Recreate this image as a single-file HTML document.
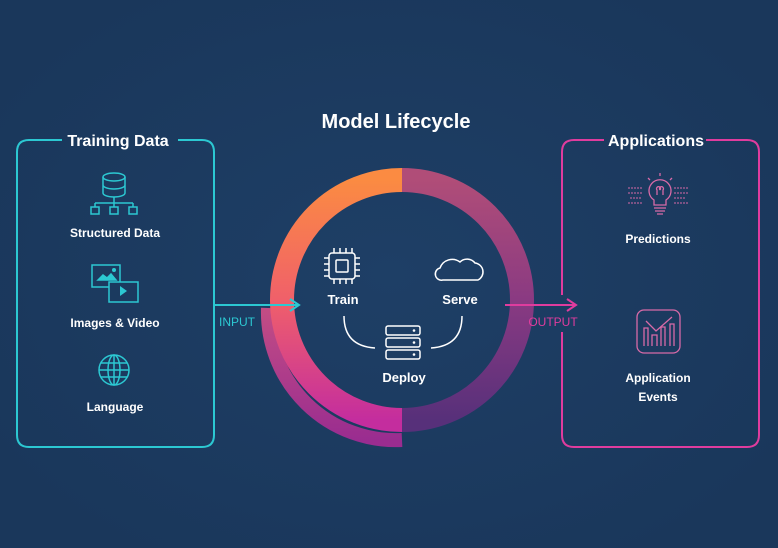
<!DOCTYPE html>
<html><head><meta charset="utf-8"><style>
html,body{margin:0;padding:0;width:778px;height:548px;overflow:hidden;background:#1b3a5f;font-family:"Liberation Sans",sans-serif}
</style></head><body>
<svg width="778" height="548" viewBox="0 0 778 548" xmlns="http://www.w3.org/2000/svg" style="position:absolute;left:0;top:0">
<defs>
<radialGradient id="bg" cx="50%" cy="50%" r="60%"><stop offset="0" stop-color="#1e3f66"/><stop offset="1" stop-color="#1a375b"/></radialGradient>
<linearGradient id="lg" x1="0" y1="0" x2="0" y2="1"><stop offset="0" stop-color="#fb8b42"/><stop offset="0.5" stop-color="#f0606a"/><stop offset="1" stop-color="#c42d9e"/></linearGradient>
<linearGradient id="rg" x1="0" y1="0" x2="0" y2="1"><stop offset="0" stop-color="#b04d78"/><stop offset="0.5" stop-color="#8a3a82"/><stop offset="1" stop-color="#57307a"/></linearGradient>
<linearGradient id="og" x1="0" y1="0" x2="0" y2="1"><stop offset="0" stop-color="#e0508a"/><stop offset="1" stop-color="#b02a98"/></linearGradient>
</defs>
<rect width="778" height="548" fill="url(#bg)"/>
<!-- boxes -->
<path d="M178 140 H202 Q214 140 214 152 V435 Q214 447 202 447 H29 Q17 447 17 435 V152 Q17 140 29 140 H62" fill="none" stroke="#2cc8d2" stroke-width="2"/>
<path d="M706 140 H747 Q759 140 759 152 V435 Q759 447 747 447 H574 Q562 447 562 435 V332 M562 295 V152 Q562 140 574 140 H604" fill="none" stroke="#e03c9e" stroke-width="2"/>
<text x="118" y="146" fill="#fff" font-size="16" font-weight="bold" text-anchor="middle">Training Data</text>
<text x="656" y="146" fill="#fff" font-size="16" font-weight="bold" text-anchor="middle">Applications</text>
<text x="396" y="128" fill="#fff" font-size="20" font-weight="bold" text-anchor="middle">Model Lifecycle</text>
<!-- ring -->
<path d="M268 308 A128 128 0 0 0 402 440" fill="none" stroke="url(#og)" stroke-width="14" opacity="0.85"/>
<path d="M402 420 A120 120 0 0 1 402 180" fill="none" stroke="url(#lg)" stroke-width="24"/>
<path d="M402 180 A120 120 0 0 1 402 420" fill="none" stroke="url(#rg)" stroke-width="24"/>
<!-- arrows -->
<line x1="214" y1="305" x2="298" y2="305" stroke="#2cc8d2" stroke-width="2"/>
<path d="M290 299 L299 305 L290 311" fill="none" stroke="#2cc8d2" stroke-width="2"/>
<text x="237" y="326" fill="#2cc8d2" font-size="12" text-anchor="middle">INPUT</text>
<line x1="505" y1="305" x2="576" y2="305" stroke="#e03c9e" stroke-width="2"/>
<path d="M567 299 L576 305 L567 311" fill="none" stroke="#e03c9e" stroke-width="2"/>
<text x="553" y="326" fill="#e03c9e" font-size="12" text-anchor="middle">OUTPUT</text>
<!-- inner -->
<g stroke="#fff" fill="none" stroke-width="1.5">
<rect x="329" y="253" width="26" height="26" rx="3"/><rect x="336" y="260" width="12" height="12" rx="1"/>
<path d="M334 253v-5M340 253v-5M346 253v-5M352 253v-5M334 279v5M340 279v5M346 279v5M352 279v5M329 258h-5M329 264h-5M329 270h-5M329 276h-5M355 258h5M355 264h5M355 270h5M355 276h5"/>
<path d="M443 280 H478 A9 9 0 0 0 475 263 A10 10 0 0 0 460 262 A13 13 0 0 0 440 268 A6 6 0 0 0 443 280 Z"/>
<path d="M344 316 Q344 346 375 348"/><path d="M462 316 Q462 346 431 348"/>
<rect x="386" y="326" width="34" height="9" rx="2"/><rect x="386" y="338" width="34" height="9" rx="2"/><rect x="386" y="350" width="34" height="9" rx="2"/>
</g>
<g fill="#fff"><circle cx="414" cy="330.5" r="1.3"/><circle cx="414" cy="342.5" r="1.3"/><circle cx="414" cy="354.5" r="1.3"/></g>
<g fill="#fff" font-size="13" font-weight="bold" text-anchor="middle">
<text x="343" y="304">Train</text><text x="460" y="304">Serve</text><text x="404" y="382">Deploy</text>
</g>
<!-- left icons -->
<g stroke="#2cc8d2" fill="none" stroke-width="1.5">
<ellipse cx="114" cy="177" rx="11" ry="4"/><path d="M103 177v16M125 177v16M103 185a11 4 0 0 0 22 0M103 193a11 4 0 0 0 22 0"/>
<path d="M114 197v6M95 203h38M95 203v4M114 203v4M133 203v4"/>
<rect x="91" y="207" width="8" height="7"/><rect x="110" y="207" width="8" height="7"/><rect x="129" y="207" width="8" height="7"/>
<rect x="92" y="265" width="28" height="22"/><rect x="109" y="282" width="29" height="20" fill="#1b3a5f"/>
<path d="M98 280l5-5 4 3 4-4 5 6z" fill="#2cc8d2"/>
<circle cx="114" cy="370" r="15"/><ellipse cx="114" cy="370" rx="6" ry="15"/><path d="M99 370h30M101 363h26M101 377h26M114 355v30"/>
</g>
<circle cx="114" cy="270" r="2" fill="#2cc8d2"/>
<path d="M120 286 l7 5 -7 5z" fill="#2cc8d2"/>
<g fill="#fff" font-size="12" font-weight="bold" text-anchor="middle">
<text x="115" y="237">Structured Data</text><text x="115" y="327">Images &amp; Video</text><text x="115" y="411">Language</text>
<text x="658" y="243">Predictions</text><text x="658" y="382">Application</text><text x="658" y="401">Events</text>
</g>
<!-- right icons -->
<g stroke="#d86aa8" fill="none" stroke-width="1.3">
<path d="M654 205 v-5 a11 11 0 1 1 12 0 v5z"/><path d="M654 208h12M655 211h10M657 214h6"/>
<path d="M657 195 v-5 a2 2 0 1 1 3 0M663 195v-5 a2 2 0 1 0 -3 0"/>
<path d="M660 173v3M648 178l2 2M672 178l-2 2"/>
<path d="M628 188h14M628 193h14M630 198h12M628 203h14M674 188h14M674 193h14M674 198h12M674 203h14" stroke-dasharray="2 1" opacity="0.8"/>
<rect x="637" y="310" width="43" height="43" rx="7"/>
<path d="M644 346v-18h4v18M652 346v-11h5v11M661 346v-19h4v19M670 346v-22h4v22"/>
<path d="M646 321l10 10 16-14"/>
</g>
</svg>
</body></html>
